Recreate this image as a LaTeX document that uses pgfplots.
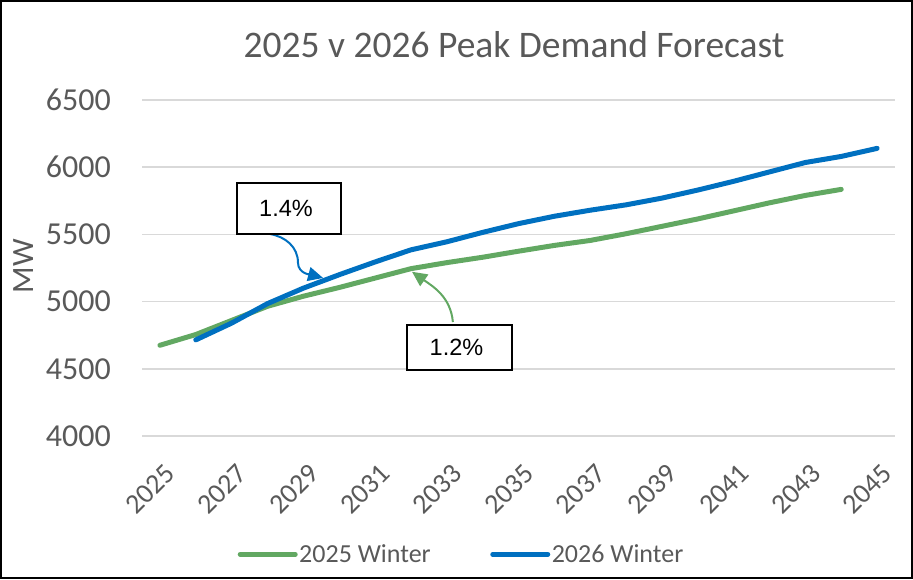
\documentclass[border=0pt]{standalone}
\usepackage{fontspec}
\setmainfont{Carlito}
\newfontfamily\arialfont{Liberation Sans}
\usepackage{pgfplots}
\pgfplotsset{compat=1.18}
\usetikzlibrary{arrows.meta}
\definecolor{gtxt}{HTML}{595959}
\definecolor{grn}{HTML}{62A862}
\definecolor{blu}{HTML}{0070C0}
\definecolor{grd}{HTML}{D9D9D9}
\begin{document}
\begin{tikzpicture}
\useasboundingbox (0,0) rectangle (913pt,579pt);
\begin{axis}[
 at={(142pt,143pt)}, anchor=south west,
 scale only axis, width=753pt, height=336pt,
 xmin=2024.5, xmax=2045.5, ymin=4000, ymax=6500,
 xtick={2025,2027,...,2045},
 ytick={4000,4500,...,6500},
 ymajorgrids, grid style={grd, line width=1.5pt},
 axis line style={draw=none},
 tick style={draw=none},
 /pgf/number format/1000 sep={},
 /pgf/number format/assume math mode=true,
 tick label style={text=gtxt},
 yticklabel style={font=\fontsize{32}{38}\selectfont, anchor=east, inner sep=0pt, xshift=-31pt},
 xticklabel style={font=\fontsize{28}{32}\selectfont, anchor=north east, inner sep=0pt, xshift=4pt, yshift=-26pt, rotate=45},
 legend style={draw=none, fill=none, at={(0.424,-0.352)}, anchor=center,
   font=\fontsize{26}{31}\selectfont, text=gtxt, inner sep=0pt,
   nodes={inner sep=1.5pt},
   /tikz/every even column/.append style={column sep=58pt}},
 legend columns=2,
 legend cell align=left,
 legend image code/.code={\draw[#1, line cap=round] (0pt,0pt) -- (55pt,0pt);},
 clip=false,
]
\addplot[grn, line width=5pt, line cap=round, line join=round] coordinates {
(2025,4675) (2026,4755) (2027,4860) (2028,4965) (2029,5040) (2030,5105)
(2031,5175) (2032,5245) (2033,5290) (2034,5330) (2035,5375) (2036,5418)
(2037,5455) (2038,5505) (2039,5560) (2040,5615) (2041,5675) (2042,5735)
(2043,5790) (2044,5835)};
\addlegendentry{2025 Winter}
\addplot[blu, line width=5pt, line cap=round, line join=round] coordinates {
(2026,4715) (2027,4840) (2028,4985) (2029,5100) (2030,5200) (2031,5295)
(2032,5385) (2033,5445) (2034,5515) (2035,5580) (2036,5635) (2037,5680)
(2038,5720) (2039,5770) (2040,5830) (2041,5895) (2042,5965) (2043,6035)
(2044,6080) (2045,6140)};
\addlegendentry{2026 Winter}
\draw[blu, line width=2pt, -{Triangle[length=15pt,width=14pt]}]
  (axis cs:2028.07,5503) to[out=-10,in=90] (axis cs:2028.85,5290) to[out=-90,in=165] (axis cs:2029.55,5176);
\draw[grn, line width=2pt, -{Triangle[length=15pt,width=14pt]}]
  (axis cs:2033.17,4848) to[out=95,in=-35] (axis cs:2032.03,5222);
\node[draw=black, line width=1.5pt, fill=white, minimum width=104pt, minimum height=51pt,
  font=\arialfont\fontsize{23.5}{27}\selectfont, inner sep=0pt] at (axis cs:2028.6,5692) {\hspace*{-6pt}1.4\%};
\node[draw=black, line width=1.5pt, fill=white, minimum width=105pt, minimum height=45pt,
  font=\arialfont\fontsize{23.5}{27}\selectfont, inner sep=0pt] at (axis cs:2033.355,4658) {\hspace*{-6pt}1.2\%};
\end{axis}
\node[font=\fontsize{37.5}{44}\selectfont, text=gtxt] at (514pt,534pt) {2025 v 2026 Peak Demand Forecast};
\node[rotate=90, font=\fontsize{31}{36}\selectfont, text=gtxt] at (24pt,313pt) {MW};
\draw[black, line width=2pt] (1pt,1pt) rectangle (912pt,578pt);
\end{tikzpicture}
\end{document}
